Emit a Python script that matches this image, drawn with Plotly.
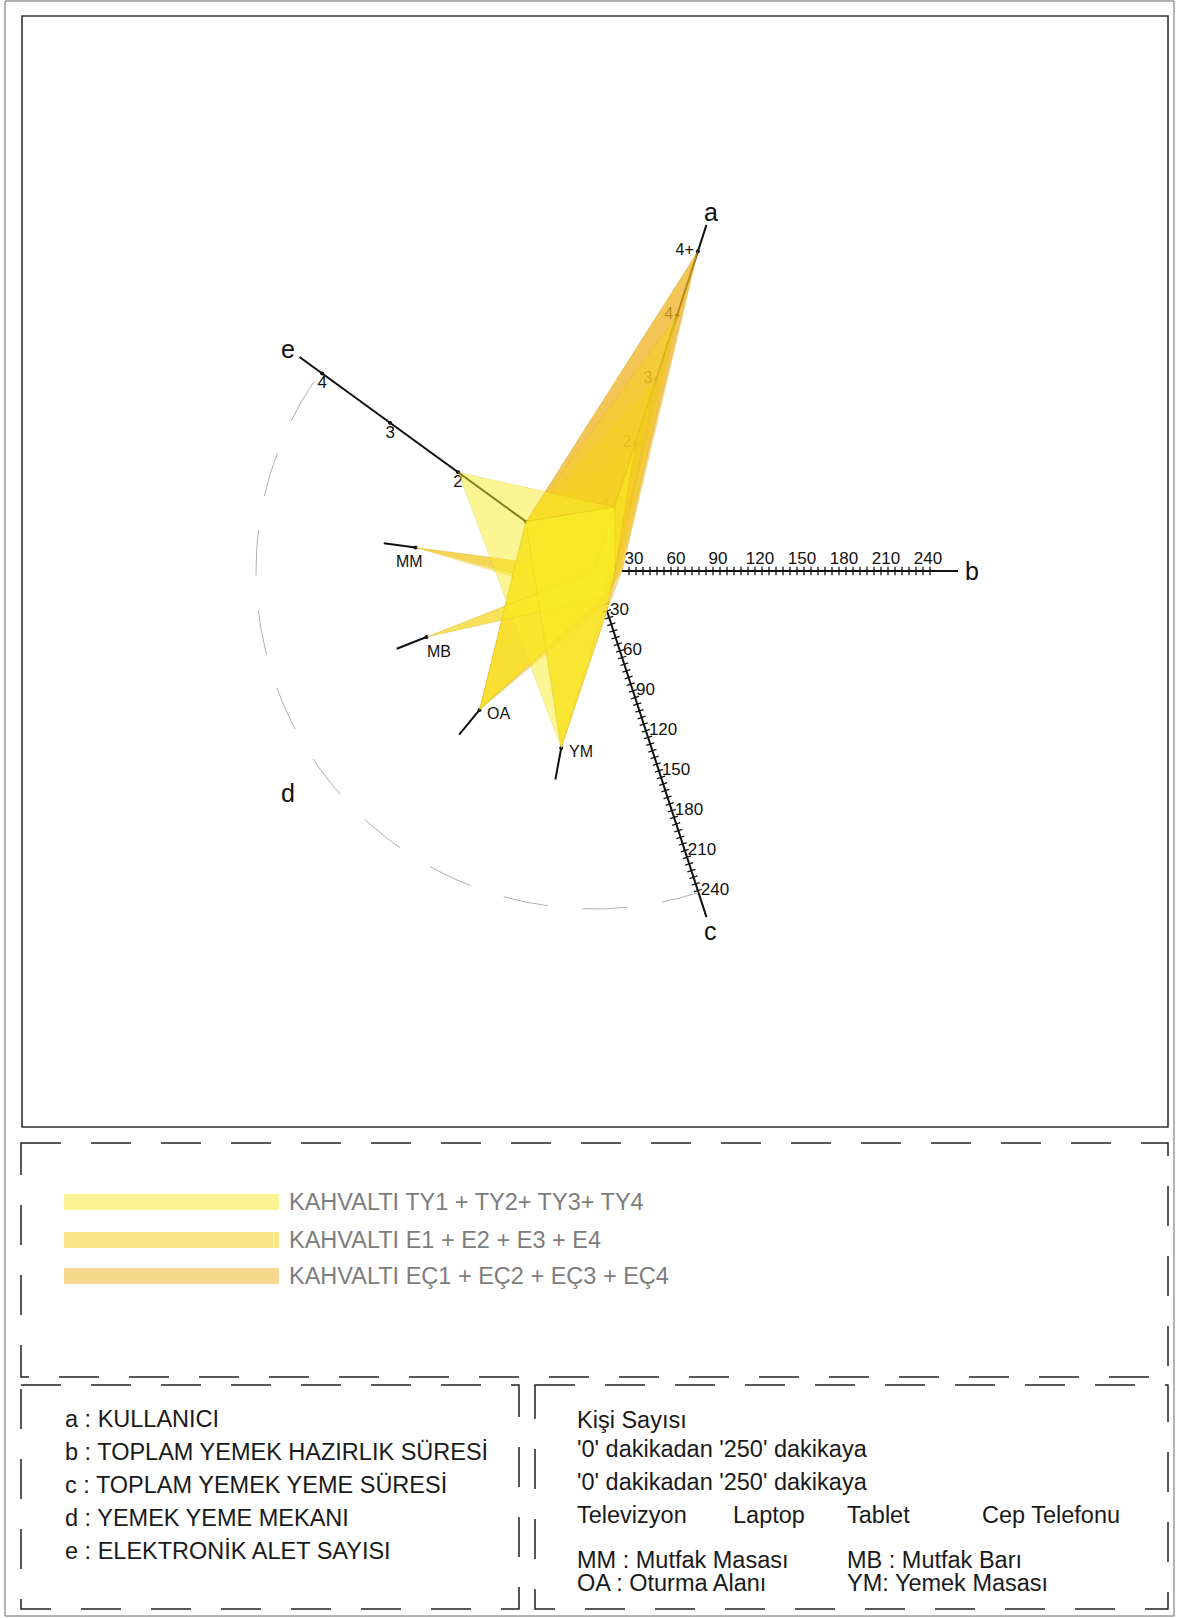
import numpy as np
import plotly.graph_objects as go

W, H = 1178, 1618
FONT = "Liberation Sans, Arial, sans-serif"

# eksenler
axis_names = ["a", "b", "c", "d", "e"]
axis_angles = [72, 0, -72, 216, 144]
a_ticks = [1, 2, 3, 4, 5]
a_tick_text = ["1", "2", "3", "4", "4+"]
time_labels = [30, 60, 90, 120, 150, 180, 210, 240]
e_ticks = [1, 2, 3, 4]
e_tick_text = ["", "2", "3", "4"]
d_places = ["MM", "MB", "OA", "YM"]
d_angles = [172.5, 201.5, 230.5, 259.5]

# kahvalti verileri: a kisi, b hazirlik (dk), c yeme (dk), d mekan, e alet sayisi
ty_a = [1, 1, 2, 1]
ty_b = [15, 10, 15, 15]
ty_c = [25, 20, 20, 30]
ty_d = ["YM", "OA", "MB", "YM"]
ty_e = [2, 1, 0, 1]

e_a = [2, 1, 3, 4]
e_b = [15, 10, 15, 20]
e_c = [20, 25, 30, 20]
e_d = ["OA", "MM", "YM", "OA"]
e_e = [1, 0, 1, 1]

ec_a = [5, 4, 5, 3]
ec_b = [18, 15, 20, 10]
ec_c = [25, 20, 30, 20]
ec_d = ["OA", "MB", "YM", "MM"]
ec_e = [1, 0, 1, 0]

series_names = ["KAHVALTI TY1 + TY2+ TY3+ TY4",
                "KAHVALTI E1 + E2 + E3 + E4",
                "KAHVALTI EÇ1 + EÇ2 + EÇ3 + EÇ4"]
series_fill = ["rgba(250,236,40,0.5)", "rgba(245,210,30,0.5)", "rgba(238,178,30,0.5)"]
legend_colors = ["#FBF294", "#FAE78C", "#F6D88C"]

left_notes = ["a : KULLANICI", "b : TOPLAM YEMEK HAZIRLIK SÜRESİ",
              "c : TOPLAM YEMEK YEME SÜRESİ", "d : YEMEK YEME MEKANI",
              "e : ELEKTRONİK ALET SAYISI"]
right_notes = ["Kişi Sayısı", "'0' dakikadan '250' dakikaya", "'0' dakikadan '250' dakikaya"]
devices = ["Televizyon", "Laptop", "Tablet", "Cep Telefonu"]
place_notes = ["MM : Mutfak Masası", "MB : Mutfak Barı", "OA : Oturma Alanı", "YM: Yemek Masası"]

# geometri
CX, CY = 594, 571
A_STEP, T_STEP, E_STEP, D_R, AXIS_LEN = 67.2, 1.4, 84, 180, 364
NOTE_SIZE = 23.5


def polar(r, ang):
    r = np.asarray(r, dtype=float)
    t = np.radians(ang)
    return CX + r * np.cos(t), CY - r * np.sin(t)


fig = go.Figure()


def line_trace(r0, r1, ang, width=2, color="#111"):
    x, y = polar([r0, r1], ang)
    fig.add_trace(go.Scatter(x=x, y=y, mode="lines", line=dict(color=color, width=width),
                             hoverinfo="skip"))


def text_trace(x, y, txt, pos, size=17):
    fig.add_trace(go.Scatter(x=x, y=y, mode="text", text=txt, textposition=pos,
                             textfont=dict(family=FONT, size=size, color="#111"),
                             hoverinfo="skip"))


# eksen cizgileri
line_trace(A_STEP, AXIS_LEN, 72)
line_trace(28, AXIS_LEN, 0)
line_trace(42, AXIS_LEN, -72)
line_trace(E_STEP, AXIS_LEN, 144)
for ang in d_angles:
    line_trace(D_R, D_R + 32, ang)

# d yay
arc_ang = np.linspace(146, 288, 200)
ax_ = CX + 338 * np.cos(np.radians(arc_ang))
ay_ = CY - 338 * np.sin(np.radians(arc_ang))
fig.add_trace(go.Scatter(x=ax_, y=ay_, mode="lines",
                         line=dict(color="#b0b0b0", width=1, dash="45px,35px"), hoverinfo="skip"))

# zaman eksenleri icin kucuk cizgiler
minor = np.arange(25, 245, 5)
for ang, rot in [(0, 0), (-72, 72)]:
    x, y = polar(minor * T_STEP, ang)
    fig.add_trace(go.Scatter(x=x, y=y, mode="markers", hoverinfo="skip",
                             marker=dict(symbol="line-ns", size=6, angle=rot,
                                         line=dict(width=1.3, color="#111"))))

# nokta isaretleri
dots = [polar(np.array(a_ticks) * A_STEP, 72), polar(np.array(e_ticks) * E_STEP, 144)]
dots += [polar(D_R, ang) for ang in d_angles]
for x, y in dots:
    fig.add_trace(go.Scatter(x=np.atleast_1d(x), y=np.atleast_1d(y), mode="markers",
                             marker=dict(size=4, color="#111"), hoverinfo="skip"))

# etiketler
x, y = polar(np.array(a_ticks) * A_STEP, 72)
text_trace(x - 4, y, a_tick_text, "middle left", 16)
x, y = polar(np.array(time_labels) * T_STEP, 0)
text_trace(x - 2, y - 3, [str(v) for v in time_labels], "top center")
x, y = polar(np.array(time_labels) * T_STEP, -72)
text_trace(x + 3, y, [str(v) for v in time_labels], "middle right")
x, y = polar(np.array(e_ticks) * E_STEP, 144)
text_trace(x, y + 2, e_tick_text, "bottom center")

# kahvalti cokgenleri (EÇ altta, TY ustte)
groups = [(ec_a, ec_b, ec_c, ec_d, ec_e, series_fill[2]),
          (e_a, e_b, e_c, e_d, e_e, series_fill[1]),
          (ty_a, ty_b, ty_c, ty_d, ty_e, series_fill[0])]
for sa, sb, sc, sd, se, col in groups:
    for a, b, c, d, e in zip(sa, sb, sc, sd, se):
        pts = [polar(a * A_STEP, 72), polar(b * T_STEP, 0), polar(c * T_STEP, -72),
               polar(D_R, d_angles[d_places.index(d)]), polar(e * E_STEP, 144)]
        px_ = [float(p[0]) for p in pts]
        py_ = [float(p[1]) for p in pts]
        fig.add_trace(go.Scatter(x=px_ + px_[:1], y=py_ + py_[:1], mode="lines", fill="toself",
                                 fillcolor=col, line=dict(color="rgba(190,160,0,0.25)", width=0.6),
                                 hoverinfo="skip"))

# mekan etiketleri
d_offsets = [(-6, 14, "center"), (-2, 15, "left"), (5, 4, "left"), (6, 4, "left")]
for name, ang, (dx, dy, anchor) in zip(d_places, d_angles, d_offsets):
    x, y = polar(D_R, ang)
    fig.add_annotation(x=float(x) + dx, y=float(y) + dy, text=name, showarrow=False,
                       xanchor=anchor, font=dict(family=FONT, size=16, color="#111"))

# eksen harfleri
for name, ang in zip(axis_names, axis_angles):
    x, y = polar(378, ang)
    fig.add_annotation(x=float(x), y=float(y), text=name, showarrow=False,
                       font=dict(family=FONT, size=25, color="#111"))

# cerceveler
shapes = [
    dict(type="rect", x0=5, y0=1, x1=1174, y1=1616, line=dict(color="#666", width=1)),
    dict(type="rect", x0=22, y0=16, x1=1168, y1=1127, line=dict(color="#333", width=1.6)),
]
dash = "40px,30px"
for x0, y0, x1, y1 in [(21, 1143, 1168, 1377), (21, 1385, 519, 1609), (535, 1385, 1168, 1609)]:
    shapes.append(dict(type="rect", x0=x0, y0=y0, x1=x1, y1=y1,
                       line=dict(color="#222", width=1.5, dash=dash)))

legend_y = [1202, 1240, 1276]
for name, col, yy in zip(series_names, legend_colors, legend_y):
    shapes.append(dict(type="rect", x0=64, x1=279, y0=yy - 8, y1=yy + 8,
                       fillcolor=col, line=dict(width=0)))
    fig.add_annotation(x=287, y=yy, text=name, showarrow=False, xanchor="left",
                       font=dict(family=FONT, size=NOTE_SIZE, color="#7d7d7d"))

for i, t in enumerate(left_notes):
    fig.add_annotation(x=63, y=1419 + 33 * i, text=t, showarrow=False, xanchor="left",
                       font=dict(family=FONT, size=NOTE_SIZE, color="#1a1a1a"))

for i, t in enumerate(right_notes):
    fig.add_annotation(x=575, y=[1420, 1449, 1482][i], text=t, showarrow=False, xanchor="left",
                       font=dict(family=FONT, size=NOTE_SIZE, color="#1a1a1a"))
for t, xx in zip(devices, [575, 731, 845, 980]):
    fig.add_annotation(x=xx, y=1515, text=t, showarrow=False, xanchor="left",
                       font=dict(family=FONT, size=NOTE_SIZE, color="#1a1a1a"))
for i, t in enumerate(place_notes):
    fig.add_annotation(x=[575, 845][i % 2], y=[1560, 1583][i // 2], text=t, showarrow=False,
                       xanchor="left", font=dict(family=FONT, size=NOTE_SIZE, color="#1a1a1a"))

fig.update_layout(
    width=W, height=H, margin=dict(l=0, r=0, t=0, b=0),
    paper_bgcolor="white", plot_bgcolor="white", showlegend=False,
    xaxis=dict(range=[0, W], visible=False, fixedrange=True),
    yaxis=dict(range=[H, 0], visible=False, fixedrange=True),
    shapes=shapes,
)

fig.write_html("out.html", config={"displayModeBar": False},
               post_script="document.body.style.margin='0';")
